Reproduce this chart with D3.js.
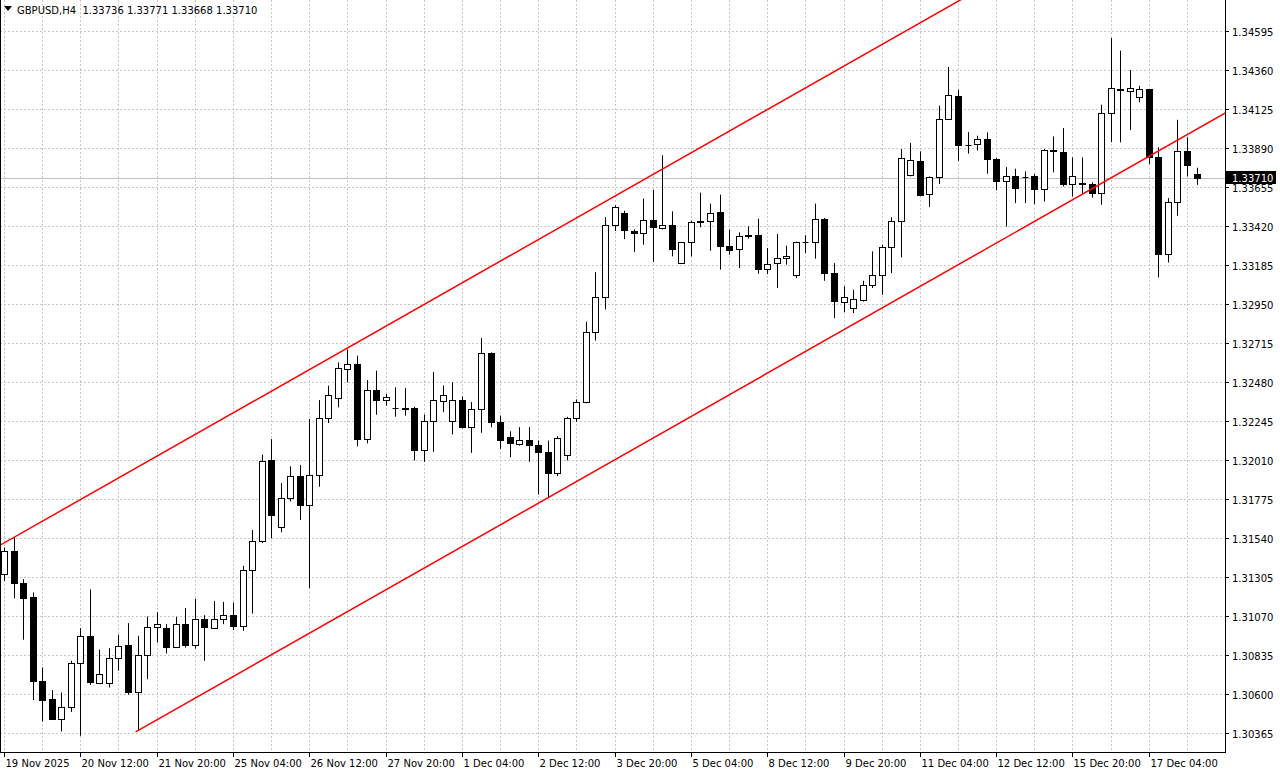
<!DOCTYPE html>
<html><head><meta charset="utf-8">
<script src="https://cdn.jsdelivr.net/npm/d3@7"></script>
<style>body{margin:0;background:#fff}svg{display:block}</style>
</head><body>
<svg id="c" width="1280" height="773"></svg>
<script>
const symbolTitle = "GBPUSD,H4";
const headerValues = ["1.33736","1.33771","1.33668","1.33710"];
const opens = [1.31323,1.31459,1.31266,1.31182,1.30679,1.30569,1.30452,1.30523,1.30786,1.30947,1.30669,1.30669,1.30818,1.30894,1.30613,1.30836,1.31003,1.30995,1.30886,1.31021,1.30894,1.31051,1.31000,1.31051,1.31075,1.31011,1.31346,1.31519,1.32010,1.31604,1.31781,1.31911,1.31739,1.31919,1.32263,1.32384,1.32558,1.32588,1.32134,1.32432,1.32373,1.32325,1.32325,1.32322,1.32069,1.32244,1.32365,1.32244,1.32369,1.32208,1.32320,1.32652,1.32240,1.32147,1.32107,1.32133,1.32103,1.32059,1.31932,1.32039,1.32264,1.32359,1.32781,1.32994,1.33424,1.33496,1.33392,1.33376,1.33456,1.33410,1.33424,1.33197,1.33325,1.33446,1.33450,1.33502,1.33301,1.33281,1.33366,1.33364,1.33163,1.33197,1.33227,1.33122,1.33325,1.33325,1.33462,1.33136,1.32965,1.32925,1.32973,1.33062,1.33126,1.33295,1.33450,1.33725,1.33813,1.33612,1.33713,1.34067,1.34201,1.33910,1.33916,1.33946,1.33823,1.33689,1.33723,1.33717,1.33719,1.33640,1.33874,1.33864,1.33673,1.33679,1.33673,1.33616,1.34099,1.34247,1.34235,1.34199,1.34245,1.33833,1.33254,1.33562,1.33870,1.33736];
const highs = [1.31483,1.31544,1.31292,1.31212,1.30760,1.30623,1.30609,1.30800,1.30997,1.31230,1.30868,1.30876,1.30957,1.31027,1.30951,1.31067,1.31093,1.31021,1.31065,1.31118,1.31174,1.31075,1.31161,1.31155,1.31151,1.31372,1.31588,1.32042,1.32136,1.31871,1.31972,1.31980,1.32257,1.32371,1.32458,1.32598,1.32675,1.32639,1.32492,1.32548,1.32408,1.32448,1.32444,1.32330,1.32284,1.32541,1.32459,1.32479,1.32393,1.32359,1.32746,1.32658,1.32278,1.32183,1.32208,1.32208,1.32127,1.32127,1.32153,1.32270,1.32375,1.32843,1.33142,1.33474,1.33544,1.33512,1.33400,1.33585,1.33637,1.33846,1.33508,1.33325,1.33452,1.33621,1.33555,1.33609,1.33398,1.33382,1.33418,1.33464,1.33287,1.33372,1.33301,1.33325,1.33364,1.33555,1.33468,1.33196,1.33056,1.33036,1.33090,1.33267,1.33307,1.33472,1.33884,1.33920,1.33870,1.33719,1.34145,1.34378,1.34241,1.33986,1.33964,1.33984,1.33829,1.33775,1.33765,1.33749,1.33733,1.33884,1.33960,1.34010,1.33833,1.33833,1.33683,1.34151,1.34553,1.34477,1.34360,1.34265,1.34245,1.33894,1.33588,1.34060,1.33954,1.33771];
const lows = [1.31282,1.31176,1.30927,1.30563,1.30434,1.30444,1.30374,1.30492,1.30348,1.30655,1.30663,1.30639,1.30740,1.30595,1.30378,1.30689,1.30910,1.30844,1.30880,1.30880,1.30874,1.30800,1.30994,1.31021,1.30985,1.30981,1.31085,1.31510,1.31537,1.31574,1.31760,1.31648,1.31238,1.31849,1.32233,1.32327,1.32478,1.32092,1.32110,1.32283,1.32337,1.32271,1.32277,1.32007,1.31999,1.32059,1.32298,1.32164,1.32200,1.32053,1.32174,1.32208,1.32077,1.32027,1.32097,1.31999,1.31802,1.31782,1.31912,1.32007,1.32240,1.32351,1.32730,1.32917,1.33390,1.33341,1.33263,1.33307,1.33203,1.33400,1.33237,1.33193,1.33237,1.33412,1.33271,1.33157,1.33247,1.33167,1.33343,1.33132,1.33130,1.33046,1.33187,1.33106,1.33257,1.33223,1.33090,1.32865,1.32901,1.32895,1.32965,1.33046,1.33005,1.33136,1.33231,1.33719,1.33600,1.33534,1.33673,1.34063,1.33813,1.33856,1.33874,1.33735,1.33635,1.33417,1.33558,1.33558,1.33552,1.33568,1.33743,1.33659,1.33598,1.33612,1.33592,1.33548,1.33925,1.33924,1.33998,1.34165,1.33793,1.33110,1.33200,1.33482,1.33719,1.33668];
const closes = [1.31463,1.31266,1.31178,1.30679,1.30563,1.30452,1.30523,1.30786,1.30949,1.30675,1.30720,1.30818,1.30888,1.30613,1.30836,1.31003,1.31021,1.30886,1.31021,1.30894,1.31051,1.31001,1.31051,1.31075,1.31011,1.31346,1.31519,1.32006,1.31678,1.31781,1.31911,1.31739,1.31919,1.32263,1.32404,1.32564,1.32588,1.32134,1.32432,1.32373,1.32387,1.32325,1.32320,1.32073,1.32244,1.32369,1.32401,1.32369,1.32208,1.32320,1.32652,1.32240,1.32133,1.32113,1.32131,1.32103,1.32059,1.31932,1.32143,1.32264,1.32359,1.32781,1.32994,1.33424,1.33534,1.33394,1.33376,1.33456,1.33414,1.33426,1.33281,1.33325,1.33446,1.33450,1.33498,1.33301,1.33275,1.33362,1.33360,1.33163,1.33193,1.33227,1.33241,1.33325,1.33321,1.33464,1.33136,1.32969,1.32993,1.32979,1.33062,1.33126,1.33295,1.33450,1.33830,1.33815,1.33608,1.33713,1.34067,1.34207,1.33910,1.33906,1.33944,1.33823,1.33689,1.33723,1.33649,1.33715,1.33640,1.33878,1.33878,1.33673,1.33723,1.33675,1.33618,1.34099,1.34251,1.34237,1.34251,1.34245,1.33833,1.33254,1.33562,1.33870,1.33787,1.33710];
const priceTicks = [1.34595,1.34360,1.34125,1.33890,1.33655,1.33420,1.33185,1.32950,1.32715,1.32480,1.32245,1.32010,1.31775,1.31540,1.31305,1.31070,1.30835,1.30600,1.30365];
const dateLabels = ["19 Nov 2025","20 Nov 12:00","21 Nov 20:00","25 Nov 04:00","26 Nov 12:00","27 Nov 20:00","1 Dec 04:00","2 Dec 12:00","3 Dec 20:00","5 Dec 04:00","8 Dec 12:00","9 Dec 20:00","11 Dec 04:00","12 Dec 12:00","15 Dec 20:00","17 Dec 04:00"];
const labelEvery = 8;
const lastPrice = 1.33710;
const upperChannel = [[0, 1.31510], [36, 1.32685]];
const lowerChannel = [[14, 1.30378], [57, 1.31782]];

const svg = d3.select("#c");
const W = 1225, H = 752;
const x = d3.scaleLinear().domain([0, 125]).range([4, 4 + 9.54 * 125]);
const y = d3.scaleLinear().domain([1.30365, 1.34595]).range([733, 31]);
const font = "Tahoma, 'DejaVu Sans', sans-serif";
const fs = 10;

svg.append("defs").append("clipPath").attr("id","clip").append("rect").attr("width",W).attr("height",H);
const g = svg.append("g");

for (let i = 0; i <= 128; i += 4) {
  g.append("line").attr("x1", Math.round(x(i)) + 0.5).attr("x2", Math.round(x(i)) + 0.5)
    .attr("y1", 0).attr("y2", H).attr("stroke", "#c8c8c8").attr("stroke-dasharray", "2,2");
}
priceTicks.forEach(p => {
  g.append("line").attr("x1", 0).attr("x2", W).attr("y1", Math.round(y(p)) + 0.5).attr("y2", Math.round(y(p)) + 0.5)
    .attr("stroke", "#c8c8c8").attr("stroke-dasharray", "2,2");
});
g.append("line").attr("x1", 0).attr("x2", W).attr("y1", Math.round(y(lastPrice)) + 0.5).attr("y2", Math.round(y(lastPrice)) + 0.5)
  .attr("stroke", "#c0c0c0");

const bars = d3.range(opens.length).map(i => ({i, o: opens[i], h: highs[i], l: lows[i], c: closes[i]}));
const cg = g.append("g").attr("clip-path","url(#clip)");
bars.forEach(d => {
  const cx = Math.round(x(d.i)) + 0.5;
  const up = d.c >= d.o;
  const top = Math.round(y(Math.max(d.o, d.c))), bot = Math.round(y(Math.min(d.o, d.c)));
  cg.append("line").attr("x1", cx).attr("x2", cx).attr("y1", y(d.h)).attr("y2", y(d.l)).attr("stroke", "#000");
  if (bot - top < 1) {
    cg.append("line").attr("x1", cx - 3).attr("x2", cx + 3).attr("y1", top + 0.5).attr("y2", top + 0.5).attr("stroke", "#000");
  } else {
    cg.append("rect").attr("x", cx - 3).attr("y", top + 0.5).attr("width", 6).attr("height", bot - top)
      .attr("fill", up ? "#fff" : "#000").attr("stroke", "#000");
  }
});

function chan(pts, i0, i1) {
  const [[a, pa], [b, pb]] = pts;
  const s = (pb - pa) / (b - a);
  return [[x(i0), y(pa + s * (i0 - a))], [x(i1), y(pa + s * (i1 - a))]];
}
const line = d3.line();
cg.append("path").attr("d", line(chan(upperChannel, -0.5, 140))).attr("stroke", "#ff0000").attr("stroke-width", 1.5).attr("fill", "none");
cg.append("path").attr("d", line(chan(lowerChannel, 13.8, 140))).attr("stroke", "#ff0000").attr("stroke-width", 1.5).attr("fill", "none");

g.append("line").attr("x1", W + 0.5).attr("x2", W + 0.5).attr("y1", 0).attr("y2", H + 1).attr("stroke", "#000");
g.append("line").attr("x1", 0).attr("x2", W + 1).attr("y1", H + 0.5).attr("y2", H + 0.5).attr("stroke", "#000");
g.append("line").attr("x1", 0.5).attr("x2", 0.5).attr("y1", 0).attr("y2", H).attr("stroke", "#000");

priceTicks.forEach(p => {
  const yy = Math.round(y(p)) + 0.5;
  g.append("line").attr("x1", W).attr("x2", W + 4).attr("y1", yy).attr("y2", yy).attr("stroke", "#000");
  g.append("text").attr("x", W + 7).attr("y", yy + 4).text(p.toFixed(5))
    .attr("font-family", font).attr("font-size", fs).attr("fill", "#000");
});
const ly = Math.round(y(lastPrice));
g.append("rect").attr("x", W + 1).attr("y", ly - 7).attr("width", 50).attr("height", 13).attr("fill", "#000");
g.append("text").attr("x", W + 7).attr("y", ly + 3.5).text(lastPrice.toFixed(5))
  .attr("font-family", font).attr("font-size", fs).attr("fill", "#fff");

dateLabels.forEach((t, k) => {
  const xx = Math.round(x(k * labelEvery)) + 0.5;
  g.append("line").attr("x1", xx).attr("x2", xx).attr("y1", H).attr("y2", H + 5).attr("stroke", "#000");
  g.append("text").attr("x", xx + 1).attr("y", 767).text(t)
    .attr("font-family", font).attr("font-size", fs).attr("fill", "#000");
});

g.append("path").attr("d", "M4,6 L12,6 L8,11 Z").attr("fill", "#000");
g.append("text").attr("x", 17).attr("y", 14).text(symbolTitle + "  " + headerValues.join(" "))
  .attr("font-family", font).attr("font-size", fs).attr("fill", "#000").attr("xml:space","preserve");
</script>
</body></html>
